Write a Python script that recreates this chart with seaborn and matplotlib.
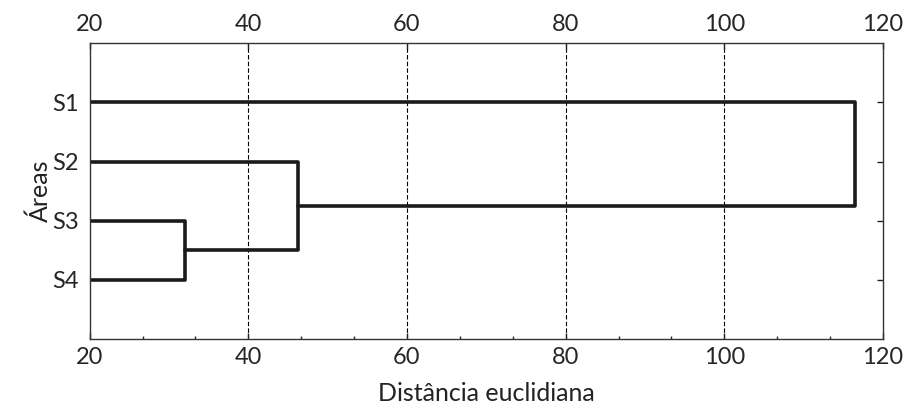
import matplotlib
matplotlib.use("Agg")
import matplotlib.pyplot as plt
import seaborn as sns
import pandas as pd
from matplotlib.ticker import MultipleLocator

# data
labels = ["S1", "S2", "S3", "S4"]
# merges: (left member, right member, distance); members are leaf labels or cluster ids ("c0", ...)
merge_a = ["S3", "S2", "S1"]
merge_b = ["S4", "c0", "c1"]
merge_dist = [32.0, 46.2, 116.5]
x_ticks = [20, 40, 60, 80, 100, 120]

sns.set_style("white")
plt.rcParams["font.family"] = ["Lato", "DejaVu Sans"]

# build dendrogram segments from the merge table
pos = {lab: (i + 1, 20.0) for i, lab in enumerate(labels)}  # (y, x-height)
segs = []
for k, (a, b, d) in enumerate(zip(merge_a, merge_b, merge_dist)):
    ya, xa = pos[a]
    yb, xb = pos[b]
    segs.append(pd.DataFrame({"x": [xa, d, d, xb], "y": [ya, ya, yb, yb], "seg": k}))
    pos[f"c{k}"] = ((ya + yb) / 2, d)
df = pd.concat(segs, ignore_index=True)

fig, ax = plt.subplots(figsize=(9.15, 4.12), dpi=100)
fig.subplots_adjust(left=0.098, right=0.965, top=0.895, bottom=0.177)

for xv in x_ticks[1:-1]:
    ax.axvline(xv, color="black", lw=0.8, ls=(0, (4, 2)), zorder=0)

sns.lineplot(data=df, x="x", y="y", units="seg", estimator=None, sort=False,
             color="#1a1a1a", lw=2.6, ax=ax, legend=False)

ax.set_xlim(20, 120)
ax.set_ylim(5, 0)
ax.set_xticks(x_ticks)
ax.xaxis.set_minor_locator(MultipleLocator(20 / 3))
ax.set_yticks(range(1, len(labels) + 1))
ax.set_yticklabels(labels)
ax.tick_params(axis="x", which="major", top=True, labeltop=True, bottom=True,
               direction="in", labelsize=17, pad=6, color="#222222", length=4, width=1)
ax.tick_params(axis="x", which="minor", top=False, bottom=True, direction="in",
               length=2.5, width=1, color="#222222")
ax.tick_params(axis="y", which="major", left=False, right=True, direction="in",
               length=4, width=1, labelsize=17, pad=8, color="#222222")
for sp in ax.spines.values():
    sp.set_color("#333333")
    sp.set_linewidth(1.0)

ax.set_xlabel("Distância euclidiana", fontsize=18, labelpad=10, color="#222222")
ax.set_ylabel("Áreas", fontsize=18, labelpad=0, color="#222222")

fig.savefig("out.png", dpi=100)
